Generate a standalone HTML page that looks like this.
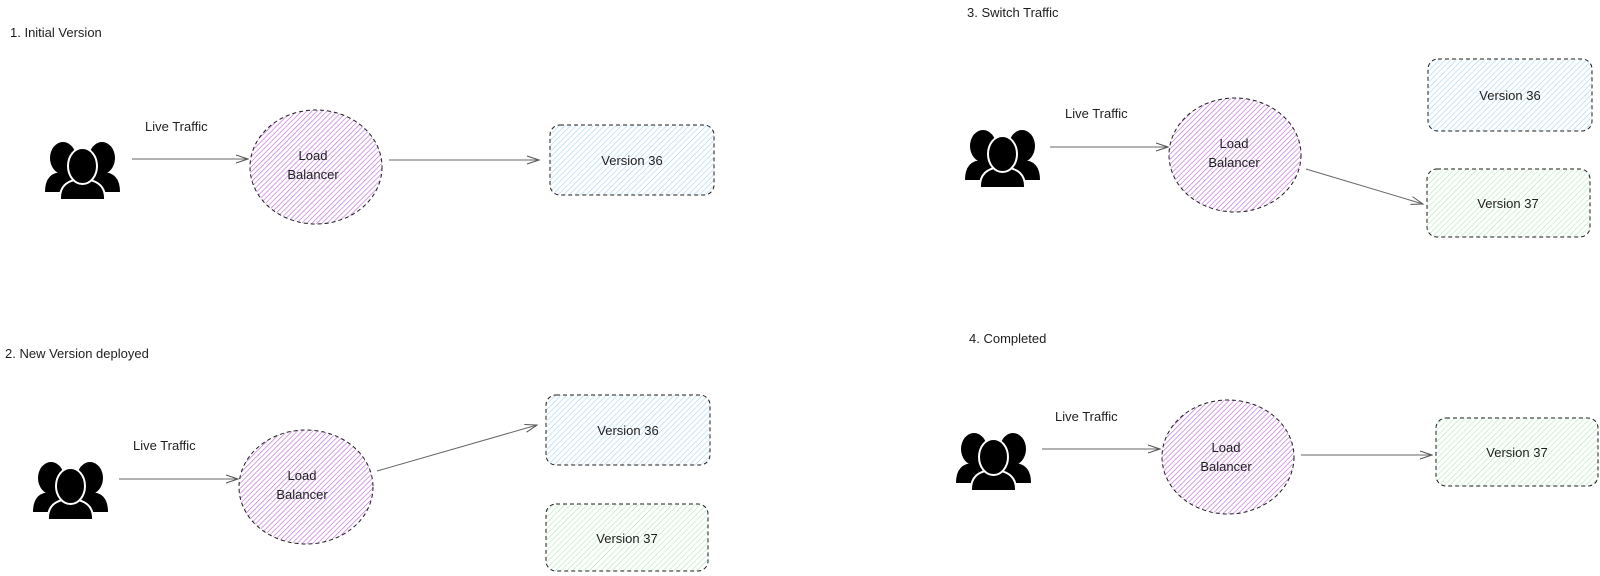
<!DOCTYPE html>
<html><head><meta charset="utf-8"><style>
html,body{margin:0;padding:0;background:#fff;width:1600px;height:576px;overflow:hidden}
text{font-family:"Liberation Sans",sans-serif;fill:#1e1e1e}
</style></head><body>
<svg width="1600" height="576" viewBox="0 0 1600 576" xmlns="http://www.w3.org/2000/svg">
<defs>
<pattern id="hp" width="3.6" height="3.6" patternUnits="userSpaceOnUse" patternTransform="rotate(45)"><line x1="0" y1="0" x2="0" y2="3.6" stroke="#c26fdc" stroke-width="1.3"/></pattern>
<pattern id="hb" width="4" height="4" patternUnits="userSpaceOnUse" patternTransform="rotate(45)"><line x1="0" y1="0" x2="0" y2="4" stroke="#9fd0f5" stroke-width="1.1"/></pattern>
<pattern id="hg" width="4" height="4" patternUnits="userSpaceOnUse" patternTransform="rotate(45)"><line x1="0" y1="0" x2="0" y2="4" stroke="#a9e6b4" stroke-width="1.1"/></pattern>
<marker id="ar" markerWidth="14" markerHeight="10" refX="13" refY="5" orient="auto" markerUnits="userSpaceOnUse"><path d="M1,1 L13,5 L1,9" fill="none" stroke="#555" stroke-width="1"/></marker>
<g id="users">
<ellipse cx="18" cy="16" rx="13" ry="16" fill="#000"/>
<ellipse cx="57" cy="16" rx="13" ry="16" fill="#000"/>
<path d="M0,50 Q0,30 18,30 Q35,30 35,50 Z" fill="#000"/>
<path d="M40,50 Q40,30 57,30 Q75,30 75,50 Z" fill="#000"/>
<path d="M15,58 Q14,38 37,37 Q61,38 60,58 Z" fill="#000" stroke="#fff" stroke-width="2"/>
<ellipse cx="37.5" cy="24" rx="14.5" ry="18" fill="#000" stroke="#fff" stroke-width="2"/>
</g>
</defs>
<g fill="none" stroke="#1e1e1e" stroke-width="1" stroke-dasharray="4 3">
<ellipse cx="316" cy="167" rx="66" ry="57" fill="url(#hp)"/>
<rect x="550" y="125" width="164" height="70" rx="10" fill="url(#hb)"/>
<ellipse cx="306" cy="487" rx="67" ry="57" fill="url(#hp)"/>
<rect x="546" y="395" width="164" height="70" rx="10" fill="url(#hb)"/>
<rect x="546" y="504" width="162" height="67" rx="10" fill="url(#hg)"/>
<ellipse cx="1235" cy="155" rx="66" ry="57" fill="url(#hp)"/>
<rect x="1428" y="59" width="164" height="72" rx="10" fill="url(#hb)"/>
<rect x="1427" y="169" width="163" height="68" rx="10" fill="url(#hg)"/>
<ellipse cx="1228" cy="457" rx="66" ry="57" fill="url(#hp)"/>
<rect x="1436" y="418" width="162" height="68" rx="10" fill="url(#hg)"/>
</g>
<g stroke="#666" stroke-width="1" marker-end="url(#ar)">
<line x1="132" y1="159" x2="248" y2="159"/>
<line x1="389" y1="160" x2="539" y2="160"/>
<line x1="119" y1="479" x2="238" y2="479"/>
<line x1="377" y1="471" x2="537" y2="425"/>
<line x1="1050" y1="147" x2="1168" y2="147"/>
<line x1="1306" y1="169" x2="1423" y2="204"/>
<line x1="1042" y1="449" x2="1160" y2="449"/>
<line x1="1301" y1="455" x2="1432" y2="455"/>
</g>
<use href="#users" x="45" y="142"/>
<use href="#users" x="33" y="462"/>
<use href="#users" x="965" y="130"/>
<use href="#users" x="956" y="433"/>
<g font-size="13">
<text x="10" y="37">1. Initial Version</text>
<text x="5" y="358">2. New Version deployed</text>
<text x="967" y="17">3. Switch Traffic</text>
<text x="969" y="343">4. Completed</text>
</g>
<g font-size="13">
<text x="145" y="131">Live Traffic</text>
<text x="133" y="450">Live Traffic</text>
<text x="1065" y="118">Live Traffic</text>
<text x="1055" y="421">Live Traffic</text>
</g>
<g font-size="13" text-anchor="middle">
<text x="313" y="160">Load</text><text x="313" y="179">Balancer</text>
<text x="302" y="480">Load</text><text x="302" y="499">Balancer</text>
<text x="1234" y="148">Load</text><text x="1234" y="167">Balancer</text>
<text x="1226" y="452">Load</text><text x="1226" y="471">Balancer</text>
<text x="632" y="165">Version 36</text>
<text x="628" y="435">Version 36</text>
<text x="627" y="543">Version 37</text>
<text x="1510" y="100">Version 36</text>
<text x="1508" y="208">Version 37</text>
<text x="1517" y="457">Version 37</text>
</g>
</svg>
</body></html>
